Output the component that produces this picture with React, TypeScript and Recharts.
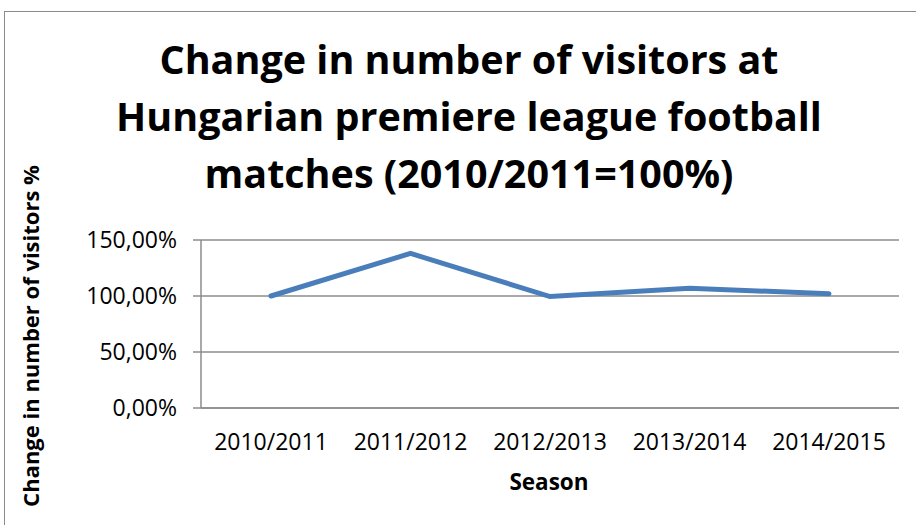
import { LineChart, Line, XAxis, YAxis, CartesianGrid } from 'recharts';

const seasons = ['2010/2011', '2011/2012', '2012/2013', '2013/2014', '2014/2015'];
const visitorChange = [1.0, 1.38, 0.995, 1.07, 1.02];
const yTicks = [0, 0.5, 1, 1.5];
const titleLines = [
  'Change in number of visitors at',
  'Hungarian premiere league football',
  'matches (2010/2011=100%)',
];

const data = seasons.map((season, i) => ({ season, value: visitorChange[i] }));

const FONT = '"Open Sans", sans-serif';
const fmtPct = (v: number) => (v * 100).toFixed(2).replace('.', ',') + '%';

export default function App() {
  return (
    <div style={{ position: 'absolute', left: 0, top: 0, width: 916, height: 525, overflow: 'hidden', background: '#fff' }}>
      <div
        style={{
          position: 'absolute',
          left: 4,
          top: 11,
          width: 940,
          height: 540,
          border: '1.5px solid #8a8a8a',
          boxSizing: 'border-box',
        }}
      />
      <div style={{ position: 'absolute', left: 0, top: 0 }}>
        <LineChart width={916} height={525} data={data} margin={{ top: 240, right: 17, bottom: 0, left: 0 }}>
          <CartesianGrid vertical={false} stroke="#8c8c8c" strokeWidth={1.5} />
          <XAxis
            dataKey="season"
            stroke="#8c8c8c"
            strokeWidth={1.5}
            tickLine={false}
            tickSize={0}
            tickMargin={26}
            height={117}
            padding={{ left: 70, right: 70 }}
            tick={{ fill: '#000', fontSize: 23, fontFamily: FONT }}
            interval={0}
          />
          <YAxis
            domain={[0, 1.5]}
            ticks={yTicks}
            tickFormatter={fmtPct}
            width={201}
            stroke="#8c8c8c"
            strokeWidth={1.5}
            tickSize={8}
            tickMargin={16}
            tick={{ fill: '#000', fontSize: 23, fontFamily: FONT }}
          />
          <Line
            type="linear"
            dataKey="value"
            stroke="#4a7ebb"
            strokeWidth={5}
            strokeLinecap="round"
            dot={false}
            isAnimationActive={false}
          />
        </LineChart>
      </div>
      <svg width={916} height={525} style={{ position: 'absolute', left: 0, top: 0, pointerEvents: 'none' }}>
        {titleLines.map((line, i) => (
          <text
            key={line}
            x={469}
            y={74 + i * 57}
            textAnchor="middle"
            fontFamily={FONT}
            fontWeight={700}
            fontSize={39.5}
            fill="#000"
          >
            {line}
          </text>
        ))}
        <text
          x={549}
          y={490}
          textAnchor="middle"
          fontFamily={FONT}
          fontWeight={700}
          fontSize={22.5}
          fill="#000"
        >
          Season
        </text>
        <text
          transform="translate(39,336) rotate(-90)"
          textAnchor="middle"
          fontFamily={FONT}
          fontWeight={700}
          fontSize={22}
          fill="#000"
        >
          Change in number of visitors %
        </text>
      </svg>
    </div>
  );
}
